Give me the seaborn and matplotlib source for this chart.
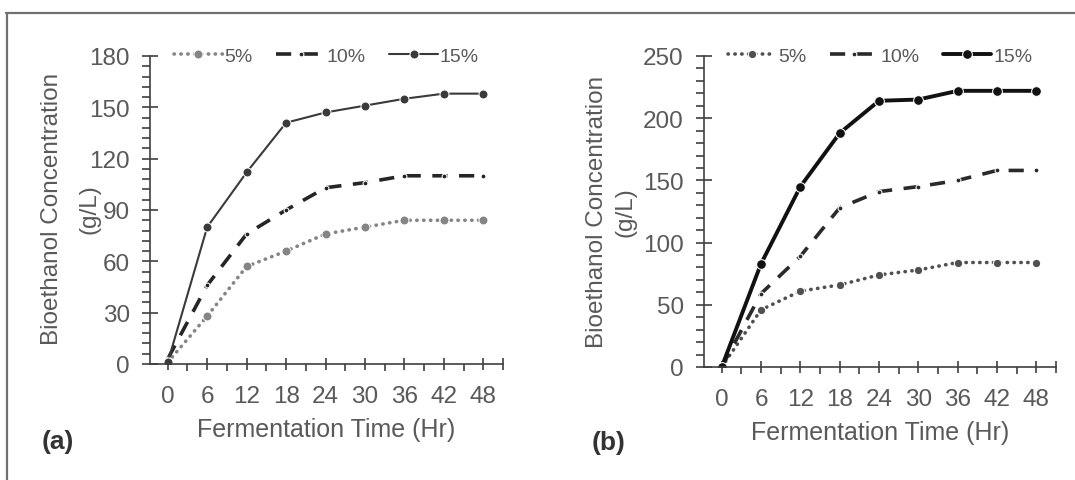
import matplotlib
matplotlib.use("Agg")
import matplotlib.pyplot as plt
import seaborn as sns
from matplotlib.lines import Line2D

# data
hours = [0, 6, 12, 18, 24, 30, 36, 42, 48]
series_names = ["5%", "10%", "15%"]

a_5 = [1, 28, 57, 66, 76, 80, 84, 84, 84]
a_10 = [3, 46, 76, 90, 103, 106, 110, 110, 110]
a_15 = [1, 80, 112, 141, 147, 151, 155, 158, 158]

b_5 = [0, 46, 61, 66, 74, 78, 84, 84, 84]
b_10 = [0, 59, 89, 128, 141, 145, 150, 158, 158]
b_15 = [0, 83, 145, 188, 214, 215, 222, 222, 222]

panel_labels = ["(a)", "(b)"]

sns.set_style("white")
plt.rcParams['font.family'] = ['Liberation Sans', 'DejaVu Sans']

txt = '#595959'
axc = '#404040'

fig = plt.figure(figsize=(10.75, 4.81), dpi=100)
W, H = 1075, 481

# axes boxes in pixel coords (left, right, bottom_y, top_y)
boxes = [(150, 503, 365, 57), (704, 1056, 368, 57)]
axes = []
for l, r, b, t in boxes:
    axes.append(fig.add_axes([l / W, 1 - b / H, (r - l) / W, (b - t) / H]))

styles_a = [
    dict(color='#858585', linestyle=(0, (0.1, 1.8)), linewidth=2.6, marker='o', markersize=6.5, dash_capstyle='round'),
    dict(color='#262626', linestyle=(0, (4.2, 3.2)), linewidth=2.6, marker='o', markersize=3.5),
    dict(color='#3a3a3a', linestyle='-', linewidth=1.5, marker='o', markersize=6.5),
]
styles_b = [
    dict(color='#505050', linestyle=(0, (0.1, 1.8)), linewidth=2.6, marker='o', markersize=6, dash_capstyle='round'),
    dict(color='#2a2a2a', linestyle=(0, (4.2, 3.2)), linewidth=2.6, marker='o', markersize=3.5),
    dict(color='#111111', linestyle='-', linewidth=2.8, marker='o', markersize=7),
]

# (axes, data, styles, ymax, major step, minor step, label x px, unit x px, label y px)
panels = [
    (axes[0], [a_5, a_10, a_15], styles_a, 180, 30, 6, 52, 89, 209),
    (axes[1], [b_5, b_10, b_15], styles_b, 250, 50, 10, 597, 626, 212),
]

for i, (ax, data, styles, ymax, ystep, ymin_step, lx, ux, ly) in enumerate(panels):
    for name, vals, st in zip(series_names, data, styles):
        sns.lineplot(x=hours, y=vals, ax=ax, label=name, **st)

    ax.set_xlim(-2.7, 51)
    ax.set_ylim(0, ymax)
    ax.set_xticks(hours + [51])
    ax.set_xticklabels([str(h) for h in hours] + [''])
    ax.set_xticks([3, 9, 15, 21, 27, 33, 39, 45], minor=True)
    ax.set_yticks(list(range(0, ymax + 1, ystep)))
    ax.set_yticks([v for v in range(0, ymax + 1, ymin_step) if v % ystep], minor=True)

    for s in ['top', 'right']:
        ax.spines[s].set_visible(False)
    for s in ['left', 'bottom']:
        ax.spines[s].set_color(axc)
        ax.spines[s].set_linewidth(1.2)

    ax.tick_params(axis='x', which='major', direction='inout', length=8, width=1.2,
                   color=axc, labelsize=17.5, labelcolor=txt, pad=11, bottom=True)
    ax.tick_params(axis='x', which='minor', direction='out', length=5, width=1.2,
                   color=axc, bottom=True)
    ax.tick_params(axis='y', which='major', direction='inout', length=11, width=1.2,
                   color=axc, labelsize=17.5, labelcolor=txt, pad=9, left=True)
    ax.tick_params(axis='y', which='minor', direction='out', length=5.5, width=1.2,
                   color=axc, left=True)

    ax.set_xlabel("Fermentation Time (Hr)", fontsize=18, color=txt, va='center')
    ax.xaxis.set_label_coords(0.5, -0.21)

    # y label in two separate lines, as in the original
    pos = ax.get_position()
    ax.set_ylabel("Bioethanol Concentration", fontsize=17.5, color=txt, va='center')
    ax.yaxis.set_label_coords((lx / W - pos.x0) / pos.width,
                              ((1 - ly / H) - pos.y0) / pos.height)
    fig.text(ux / W, 1 - ly / H, "(g/L)", fontsize=17.5, color=txt, rotation=90,
             ha='center', va='center')

    leg = ax.legend(loc='center', bbox_to_anchor=(0.5, 1.0), ncol=3, frameon=False,
                    fontsize=14, handlelength=2.5, handletextpad=0.1,
                    columnspacing=1.2, borderaxespad=0)
    for t in leg.get_texts():
        t.set_color(txt)

fig.text(42 / W, 1 - 442 / H, panel_labels[0], fontsize=19, fontweight='bold',
         color='#333333', va='center', ha='left')
fig.text(592 / W, 1 - 443 / H, panel_labels[1], fontsize=19, fontweight='bold',
         color='#333333', va='center', ha='left')

# frame lines (top and left only)
fig.add_artist(Line2D([6 / W, 1], [1 - 14 / H, 1 - 14 / H], transform=fig.transFigure,
                      color='#707070', linewidth=1.6))
fig.add_artist(Line2D([7 / W, 7 / W], [0, 1 - 14 / H], transform=fig.transFigure,
                      color='#707070', linewidth=1.6))

fig.savefig("out.png", dpi=100)
